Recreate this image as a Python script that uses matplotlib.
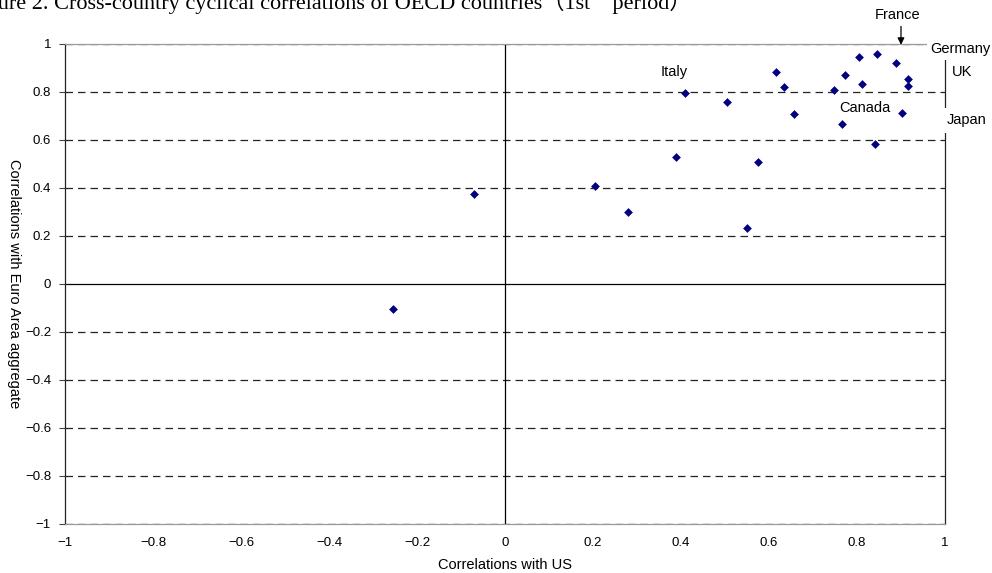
import matplotlib
matplotlib.use("Agg")
import matplotlib.pyplot as plt
import numpy as np

us_corr = [0.805, 0.846, 0.889, 0.617, 0.773, 0.917, 0.811, 0.917, 0.634, 0.748,
           0.408, 0.505, 0.657, 0.903, 0.766, 0.842, 0.388, 0.576, 0.204, 0.279,
           0.550, -0.071, -0.254]
ea_corr = [0.947, 0.958, 0.920, 0.883, 0.869, 0.855, 0.832, 0.824, 0.821, 0.807,
           0.794, 0.758, 0.710, 0.711, 0.665, 0.582, 0.531, 0.507, 0.410, 0.299,
           0.232, 0.376, -0.103]

ticks = [-1, -0.8, -0.6, -0.4, -0.2, 0, 0.2, 0.4, 0.6, 0.8, 1]
tick_labels = ["\u22121", "\u22120.8", "\u22120.6", "\u22120.4", "\u22120.2", "0",
               "0.2", "0.4", "0.6", "0.8", "1"]

title = "Figure 2. Cross-country cyclical correlations of OECD countries\uff081st\u3000period\uff09"

plt.rcParams['font.family'] = ['Liberation Sans', 'DejaVu Sans']

fig = plt.figure(figsize=(9.92, 5.73), dpi=100)
ax = fig.add_axes([65/992, 49/573, 880/992, 480/573])

ax.set_xlim(-1, 1)
ax.set_ylim(-1, 1)
ax.set_xticks(ticks)
ax.set_xticklabels(tick_labels, fontsize=9.5)
ax.set_yticks(ticks)
ax.set_yticklabels(tick_labels, fontsize=9.5)
ax.tick_params(axis='x', length=0, pad=9)
ax.tick_params(axis='y', length=4, direction='out', pad=6, color='#444444')

for t in ticks:
    if t == 0:
        continue
    ax.axhline(t, color='#222222', lw=0.9, ls=(0, (6, 4)), zorder=1)
ax.axhline(0, color='black', lw=0.9, zorder=1)
ax.axvline(0, color='black', lw=0.9, zorder=1)
for name, s in ax.spines.items():
    s.set_linewidth(0.9)
    s.set_color('#999999' if name in ('top', 'bottom') else '#222222')

ax.scatter(us_corr, ea_corr, marker='D', s=20, color='#000080', zorder=4, linewidths=0)

ax.set_xlabel("Correlations with US", fontsize=10.5, labelpad=7)
ax.set_ylabel("Correlations with Euro Area aggregate", fontsize=10.5, rotation=270,
              va='bottom')
ax.yaxis.set_label_coords(-0.066, 0.5)

lab_kw = dict(fontsize=10.5, clip_on=False, zorder=6)
ax.text(0.893, 1.12, "France", ha='center', va='center', **lab_kw)
ax.annotate("", xy=(0.9, 0.985), xytext=(0.9, 1.085),
            arrowprops=dict(arrowstyle='-|>', color='black', lw=0.9, mutation_scale=10),
            annotation_clip=False, zorder=6)
ax.text(0.966, 0.978, "Germany", ha='left', va='center',
        bbox=dict(facecolor='white', edgecolor='none', pad=2.5), **lab_kw)
ax.text(1.015, 0.883, "UK", ha='left', va='center', **lab_kw)
ax.text(1.003, 0.683, "Japan", ha='left', va='center',
        bbox=dict(facecolor='white', edgecolor='none', pad=4), **lab_kw)
ax.text(0.818, 0.733, "Canada", ha='center', va='center', **lab_kw)
ax.text(0.384, 0.883, "Italy", ha='center', va='center', **lab_kw)

fig.text(-0.032, 1 - 9/573, title, ha='left', va='baseline', fontsize=16,
         family=['Liberation Serif', 'Noto Sans CJK JP', 'DejaVu Serif'])

fig.savefig("out.png", dpi=100)
